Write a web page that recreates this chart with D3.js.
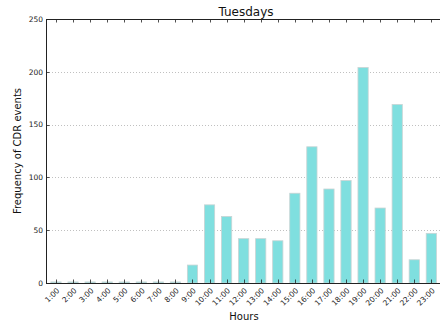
<!DOCTYPE html>
<html>
<head>
<meta charset="utf-8">
<script src="https://cdn.jsdelivr.net/npm/d3@7"></script>
<style>
body { margin: 0; background: #fff; }
svg { display: block; font-family: "DejaVu Sans", sans-serif; }
</style>
</head>
<body>
<svg id="chart" width="440" height="327"></svg>
<script>
// data
var hours = ["1:00","2:00","3:00","4:00","5:00","6:00","7:00","8:00","9:00","10:00","11:00","12:00",
             "13:00","14:00","15:00","16:00","17:00","18:00","19:00","20:00","21:00","22:00","23:00"];
var counts = [1, 1, 1, 1, 1, 1, 1, 1, 17, 74, 63, 42, 42, 40, 85, 129, 89, 97, 204, 71, 169, 22, 47];
var yTicks = [0, 50, 100, 150, 200, 250];

var svg = d3.select("#chart");
var pLeft = 46, pRight = 446, pTop = 19, pBottom = 283;

var x = d3.scaleLinear().domain([-0.586, 22.86]).range([pLeft, pRight]);
var y = d3.scaleLinear().domain([0, 250]).range([pBottom, pTop]);
var barW = x(0.6) - x(0);

// grid
svg.append("g").selectAll("line").data(yTicks.slice(1, -1)).enter().append("line")
    .attr("x1", pLeft).attr("x2", pRight)
    .attr("y1", function(d) { return Math.round(y(d)) + 0.5; })
    .attr("y2", function(d) { return Math.round(y(d)) + 0.5; })
    .attr("stroke", "#b0b0b0").attr("stroke-width", 0.8)
    .attr("stroke-dasharray", "1,2");

// bars
svg.append("g").selectAll("rect").data(counts).enter().append("rect")
    .attr("x", function(d, i) { return x(i) - barW / 2; })
    .attr("y", function(d) { return y(d); })
    .attr("width", barW)
    .attr("height", function(d) { return pBottom - y(d); })
    .attr("fill", "#7fdfdf")
    .attr("stroke", "#c8d4d4").attr("stroke-width", 0.8);

// frame
svg.append("rect").attr("x", pLeft + 0.5).attr("y", pTop + 0.5)
    .attr("width", pRight - pLeft).attr("height", pBottom - pTop)
    .attr("fill", "none").attr("stroke", "#222").attr("stroke-width", 1);

// x ticks (inward, top and bottom)
var xt = svg.append("g");
hours.forEach(function(h, i) {
    var px = Math.round(x(i)) + 0.5;
    xt.append("line").attr("x1", px).attr("x2", px).attr("y1", pBottom).attr("y2", pBottom - 3.5).attr("stroke", "#222").attr("stroke-width", 0.8);
    xt.append("line").attr("x1", px).attr("x2", px).attr("y1", pTop).attr("y2", pTop + 3.5).attr("stroke", "#222").attr("stroke-width", 0.8);
    xt.append("text")
        .attr("transform", "translate(" + (x(i) + 4) + "," + (pBottom + 8) + ") rotate(-45)")
        .attr("text-anchor", "end")
        .attr("font-size", "7.5px").attr("fill", "#222")
        .text(h);
});

// y ticks
var yt = svg.append("g");
yTicks.forEach(function(t) {
    var py = Math.round(y(t)) + 0.5;
    yt.append("line").attr("x1", pLeft).attr("x2", pLeft + 3.5).attr("y1", py).attr("y2", py).attr("stroke", "#222").attr("stroke-width", 0.8);
    yt.append("line").attr("x1", pRight).attr("x2", pRight - 3.5).attr("y1", py).attr("y2", py).attr("stroke", "#222").attr("stroke-width", 0.8);
    yt.append("text")
        .attr("x", pLeft - 3).attr("y", y(t) + 2.8)
        .attr("text-anchor", "end")
        .attr("font-size", "7.5px").attr("fill", "#222")
        .text(t);
});

// labels
svg.append("text").attr("x", (pLeft + pRight) / 2).attr("y", 16)
    .attr("text-anchor", "middle").attr("font-size", "12px").attr("fill", "#111")
    .text("Tuesdays");
svg.append("text").attr("x", (pLeft + pRight) / 2 - 2).attr("y", 320)
    .attr("text-anchor", "middle").attr("font-size", "10px").attr("fill", "#111")
    .text("Hours");
svg.append("text")
    .attr("transform", "translate(21," + ((pTop + pBottom) / 2) + ") rotate(-90)")
    .attr("text-anchor", "middle").attr("font-size", "10px").attr("fill", "#111")
    .text("Frequency of CDR events");
</script>
</body>
</html>
